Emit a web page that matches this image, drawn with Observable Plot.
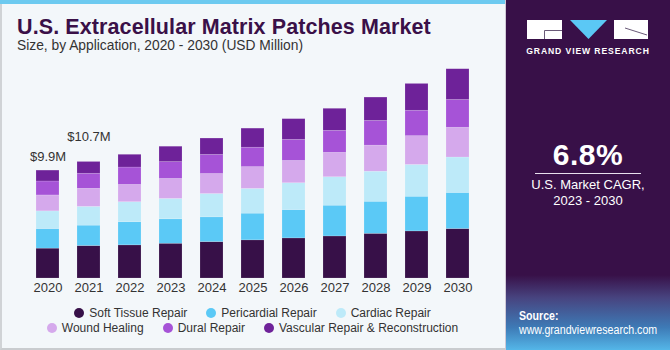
<!DOCTYPE html>
<html>
<head>
<meta charset="utf-8">
<script src="https://cdn.jsdelivr.net/npm/d3@7"></script>
<script src="https://cdn.jsdelivr.net/npm/@observablehq/plot@0.6"></script>
<style>
  html, body { margin: 0; padding: 0; }
  body { width: 670px; height: 350px; overflow: hidden; font-family: "Liberation Sans", Arial, sans-serif; }
  #root { position: relative; width: 670px; height: 350px; background: #f3f7fa; }
  #leftpanel { position: absolute; left: 0; top: 0; width: 505px; height: 350px; background: #f3f7fa; box-sizing: border-box; border-left: 2px solid #d0d3d6; border-bottom: 2px solid #c9cccf; }
  #topbar { position: absolute; left: 0; top: 0; width: 505px; height: 4px; background: #6dcaf0; }
  #title { position: absolute; left: 17px; top: 15px; font-size: 21.5px; font-weight: bold; color: #3a1048; white-space: nowrap; letter-spacing: 0.1px; }
  #subtitle { position: absolute; left: 17px; top: 38px; font-size: 13.8px; color: #333; white-space: nowrap; }
  #chart { position: absolute; left: 0; top: 60px; }
  #legend { position: absolute; left: 0; top: 305px; width: 505px; font-size: 12px; color: #333; }
  .lrow { display: flex; justify-content: center; gap: 19px; height: 15.5px; align-items: center; }
  .litem { display: flex; align-items: center; gap: 5px; white-space: nowrap; }
  .dot { width: 10px; height: 10px; border-radius: 50%; display: inline-block; }
  #rightpanel { position: absolute; left: 505px; top: 0; width: 165px; height: 350px; background: #381048; overflow: hidden; border-left: 1px solid #cfc9d6; box-sizing: border-box; }
  #rightpanel .grad { position: absolute; left: 0; bottom: 0; width: 100%; height: 75px;
    background: linear-gradient(to bottom, rgba(56,16,72,1) 0%, rgba(72,70,130,0.95) 30%, rgba(62,128,188,0.95) 70%, rgba(84,182,232,1) 100%); }
  .rtext { position: absolute; left: 0; width: 164px; text-align: center; color: #fff; }
</style>
</head>
<body>
<div id="root">
  <div id="leftpanel"></div>
  <div id="topbar"></div>
  <div id="title">U.S. Extracellular Matrix Patches Market</div>
  <div id="subtitle">Size, by Application, 2020 - 2030 (USD Million)</div>
  <div id="chart"></div>
  <div id="legend"></div>
  <div id="rightpanel">
    <div class="grad"></div>
    <svg width="164" height="60" style="position:absolute;left:0;top:0">
      <rect x="21" y="20" width="35" height="19" fill="#ffffff"/>
      <polyline points="38.5,39 38.5,30.5 56,30.5" style="fill:none;stroke:#6a5a78;stroke-width:1"/>
      <polygon points="64,20 101,20 82.5,39" style="fill:#5bc8f5"/>
      <rect x="108" y="20" width="34" height="19" fill="#ffffff"/>
      <line x1="119" y1="28" x2="141" y2="35" style="stroke:#6a5a78;stroke-width:1"/>
      <text x="82" y="53.5" text-anchor="middle" style="fill:#ffffff" font-size="8.6" font-weight="bold" letter-spacing="0.9" font-family="Liberation Sans, Arial, sans-serif">GRAND VIEW RESEARCH</text>
    </svg>
    <div class="rtext" style="top:138px;font-size:30px;font-weight:bold;letter-spacing:0.5px;">6.8%</div>
    <div style="position:absolute;left:29px;top:172.5px;width:106px;height:1.3px;background:#e8e0ee;"></div>
    <div class="rtext" style="top:177px;font-size:13px;line-height:15.5px;">U.S. Market CAGR,<br>2023 - 2030</div>
    <div class="rtext" style="top:309px;left:13px;width:170px;text-align:left;font-size:12.5px;line-height:14px;transform:scaleX(0.85);transform-origin:0 0;white-space:nowrap;"><b>Source:</b><br>www.grandviewresearch.com</div>
  </div>
</div>
<script>
const years = ["2020","2021","2022","2023","2024","2025","2026","2027","2028","2029","2030"];
const series = ["Soft Tissue Repair","Pericardial Repair","Cardiac Repair","Wound Healing","Dural Repair","Vascular Repair & Reconstruction"];
const colors = ["#371048","#5bc9f6","#bdeaf9","#d5a9ec","#a653d7","#6e2299"];
const softTissue  = [2.74, 2.98, 3.04, 3.19, 3.34, 3.50, 3.68, 3.86, 4.10, 4.32, 4.54];
const pericardial = [1.80, 1.87, 2.12, 2.24, 2.27, 2.45, 2.60, 2.82, 2.94, 3.18, 3.31];
const cardiac     = [1.62, 1.72, 1.84, 1.87, 2.14, 2.27, 2.46, 2.61, 2.76, 2.92, 3.25];
const wound       = [1.46, 1.66, 1.59, 1.84, 1.84, 2.00, 2.05, 2.24, 2.39, 2.64, 2.73];
const dural       = [1.28, 1.38, 1.59, 1.54, 1.75, 1.78, 1.93, 2.02, 2.27, 2.33, 2.55];
const vascular    = [1.00, 1.08, 1.17, 1.41, 1.50, 1.75, 1.90, 2.02, 2.14, 2.46, 2.82];
const labelYears = ["2020","2021"];
const labelTexts = ["$9.9M","$10.7M"];

const seriesValues = [softTissue, pericardial, cardiac, wound, dural, vascular];
const data = [];
series.forEach((s, si) => years.forEach((y, yi) => data.push({year: y, series: s, value: seriesValues[si][yi]})));
const totals = years.map((y, yi) => ({year: y, total: d3.sum(seriesValues, v => v[yi])}));
const labels = labelYears.map((y, i) => ({year: y, total: totals.find(t => t.year === y).total, text: labelTexts[i]}));

const chart = Plot.plot({
  width: 505,
  height: 245,
  marginLeft: 13,
  marginRight: 12,
  marginTop: 0,
  marginBottom: 27,
  style: {background: "transparent", fontFamily: "Liberation Sans, Arial, sans-serif", fontSize: "13px", color: "#333"},
  x: {domain: years, padding: 0.43, label: null, tickSize: 0, tickPadding: 4},
  y: {domain: [0, 20], axis: null},
  color: {domain: series, range: colors},
  marks: [
    Plot.barY(data, {x: "year", y: "value", fill: "series", stroke: "#ffffff", strokeOpacity: 0.25, strokeWidth: 0.6}),
    Plot.text(labels.slice(0, 1), {x: "year", y: "total", text: "text", dy: -14, fontSize: 13, fill: "#333"}),
    Plot.text(labels.slice(1), {x: "year", y: "total", text: "text", dy: -25, fontSize: 13, fill: "#333"})
  ]
});
document.getElementById("chart").appendChild(chart);

const legend = document.getElementById("legend");
const rows = [[0,1,2],[3,4,5]];
rows.forEach(r => {
  const row = document.createElement("div");
  row.className = "lrow";
  r.forEach(i => {
    const it = document.createElement("div");
    it.className = "litem";
    it.innerHTML = `<span class="dot" style="background:${colors[i]}"></span><span>${series[i].replace("&","&amp;")}</span>`;
    row.appendChild(it);
  });
  legend.appendChild(row);
});
</script>
</body>
</html>
